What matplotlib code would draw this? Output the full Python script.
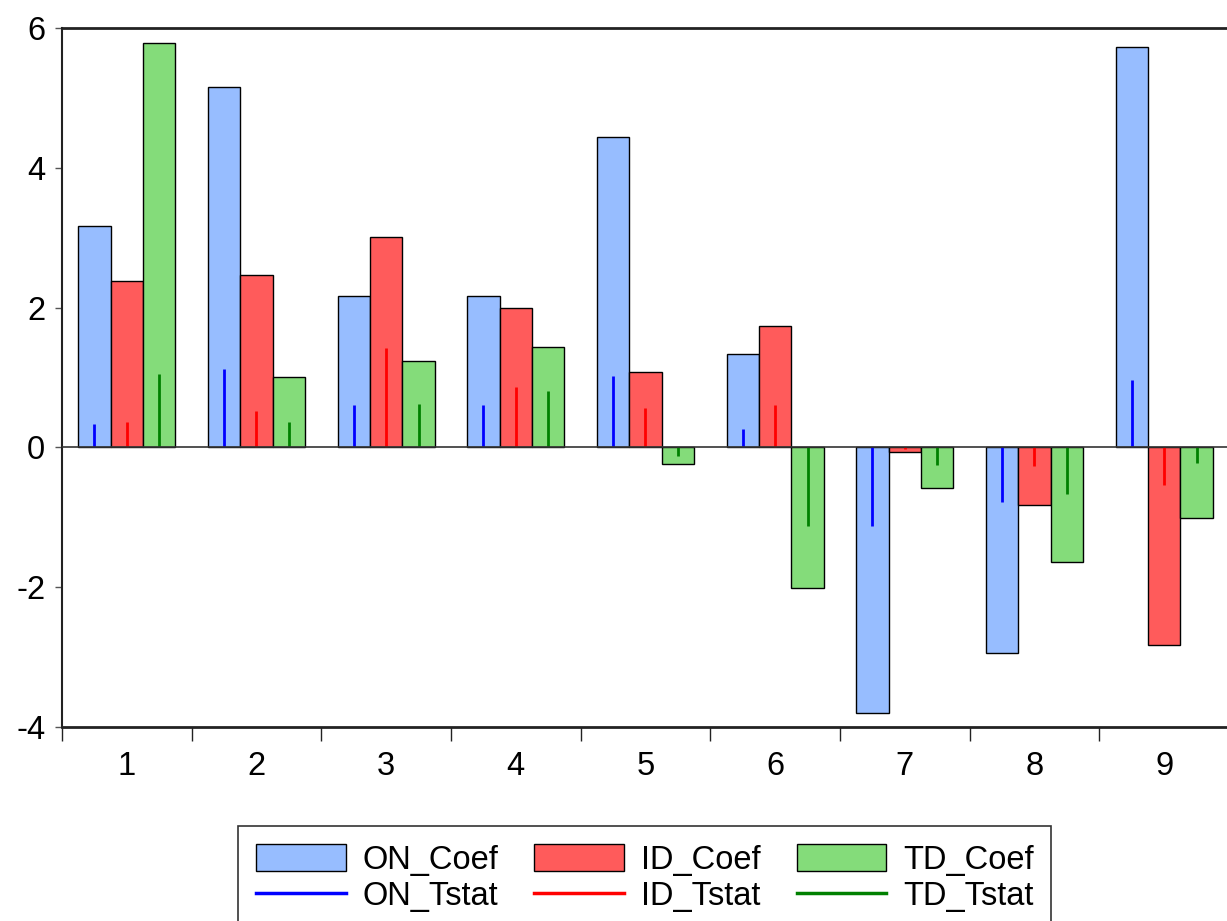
import matplotlib
matplotlib.use("Agg")
import matplotlib.pyplot as plt
import numpy as np
from matplotlib.patches import Patch
from matplotlib.lines import Line2D

plt.rcParams['font.family'] = ['Liberation Sans', 'DejaVu Sans']
plt.rcParams['axes.unicode_minus'] = False

categories = ["1", "2", "3", "4", "5", "6", "7", "8", "9"]
on_coef = [3.17, 5.16, 2.17, 2.17, 4.44, 1.33, -3.80, -2.94, 5.73]
id_coef = [2.38, 2.47, 3.01, 2.00, 1.08, 1.74, -0.06, -0.83, -2.83]
td_coef = [5.79, 1.00, 1.24, 1.44, -0.24, -2.01, -0.58, -1.64, -1.01]
on_tstat = [0.33, 1.12, 0.60, 0.60, 1.02, 0.27, -1.12, -0.78, 0.97]
id_tstat = [0.36, 0.52, 1.42, 0.86, 0.57, 0.60, -0.02, -0.27, -0.54]
td_tstat = [1.05, 0.36, 0.62, 0.80, -0.12, -1.12, -0.25, -0.67, -0.23]

yticks = [-4, -2, 0, 2, 4, 6]

bar_colors = ["#97BDFF", "#FF5B5B", "#84DC7A"]
line_colors = ["#0000FF", "#FF0000", "#008000"]
coef_names = ["ON_Coef", "ID_Coef", "TD_Coef"]
tstat_names = ["ON_Tstat", "ID_Tstat", "TD_Tstat"]

W, H = 1227, 921
fig = plt.figure(figsize=(W / 100, H / 100), dpi=100)
ax = fig.add_axes([62 / W, 1 - 727 / H, (1229 - 62) / W, (727 - 28) / H])

x = np.arange(1, len(categories) + 1)
bw = 0.25
coefs = [on_coef, id_coef, td_coef]
tstats = [on_tstat, id_tstat, td_tstat]
for i in range(3):
    xi = x + (i - 1) * bw
    ax.bar(xi, coefs[i], width=bw, color=bar_colors[i], edgecolor="black",
           linewidth=1.0, zorder=2)
    ax.vlines(xi, 0, tstats[i], color=line_colors[i], linewidth=2.0, zorder=3)

ax.axhline(0, color="#333333", linewidth=1.2, zorder=4)

ax.set_xlim(0.5, 9.5)
ax.set_ylim(-4, 6)
ax.set_yticks(yticks)
ax.set_yticklabels([str(v) for v in yticks])
ax.set_xticks(x)
ax.set_xticklabels(categories)
ax.set_xticks(np.arange(0.5, 10.5, 1.0), minor=True)

ax.tick_params(axis='x', which='major', length=0, pad=17, labelsize=23.5)
ax.tick_params(axis='x', which='minor', length=10, width=1.0, direction='out', color="#222222")
ax.tick_params(axis='y', which='major', length=5, width=1.0, direction='out', pad=7,
               labelsize=23.5, color="#555555")

for s in ['left', 'bottom', 'top']:
    ax.spines[s].set_color("#222222")
ax.spines['right'].set_visible(False)
ax.spines['left'].set_linewidth(1.5)
ax.spines['bottom'].set_linewidth(2.0)
ax.spines['top'].set_linewidth(2.0)

handles = []
labels = []
for i in range(3):
    handles.append(Patch(facecolor=bar_colors[i], edgecolor="black", linewidth=1.0))
    labels.append(coef_names[i])
    handles.append(Line2D([0], [0], color=line_colors[i], linewidth=2.5))
    labels.append(tstat_names[i])

leg = fig.legend(handles, labels, ncol=3, loc='upper left',
                 bbox_to_anchor=(238 / W, 1 - 826 / H),
                 fontsize=23.5, frameon=True, fancybox=False,
                 edgecolor="black", handlelength=2.75, handleheight=0.9,
                 handletextpad=0.5, columnspacing=1.12, labelspacing=0.15,
                 borderpad=0.55, borderaxespad=0)
leg.get_frame().set_linewidth(1.2)

fig.savefig("out.png", dpi=100)
